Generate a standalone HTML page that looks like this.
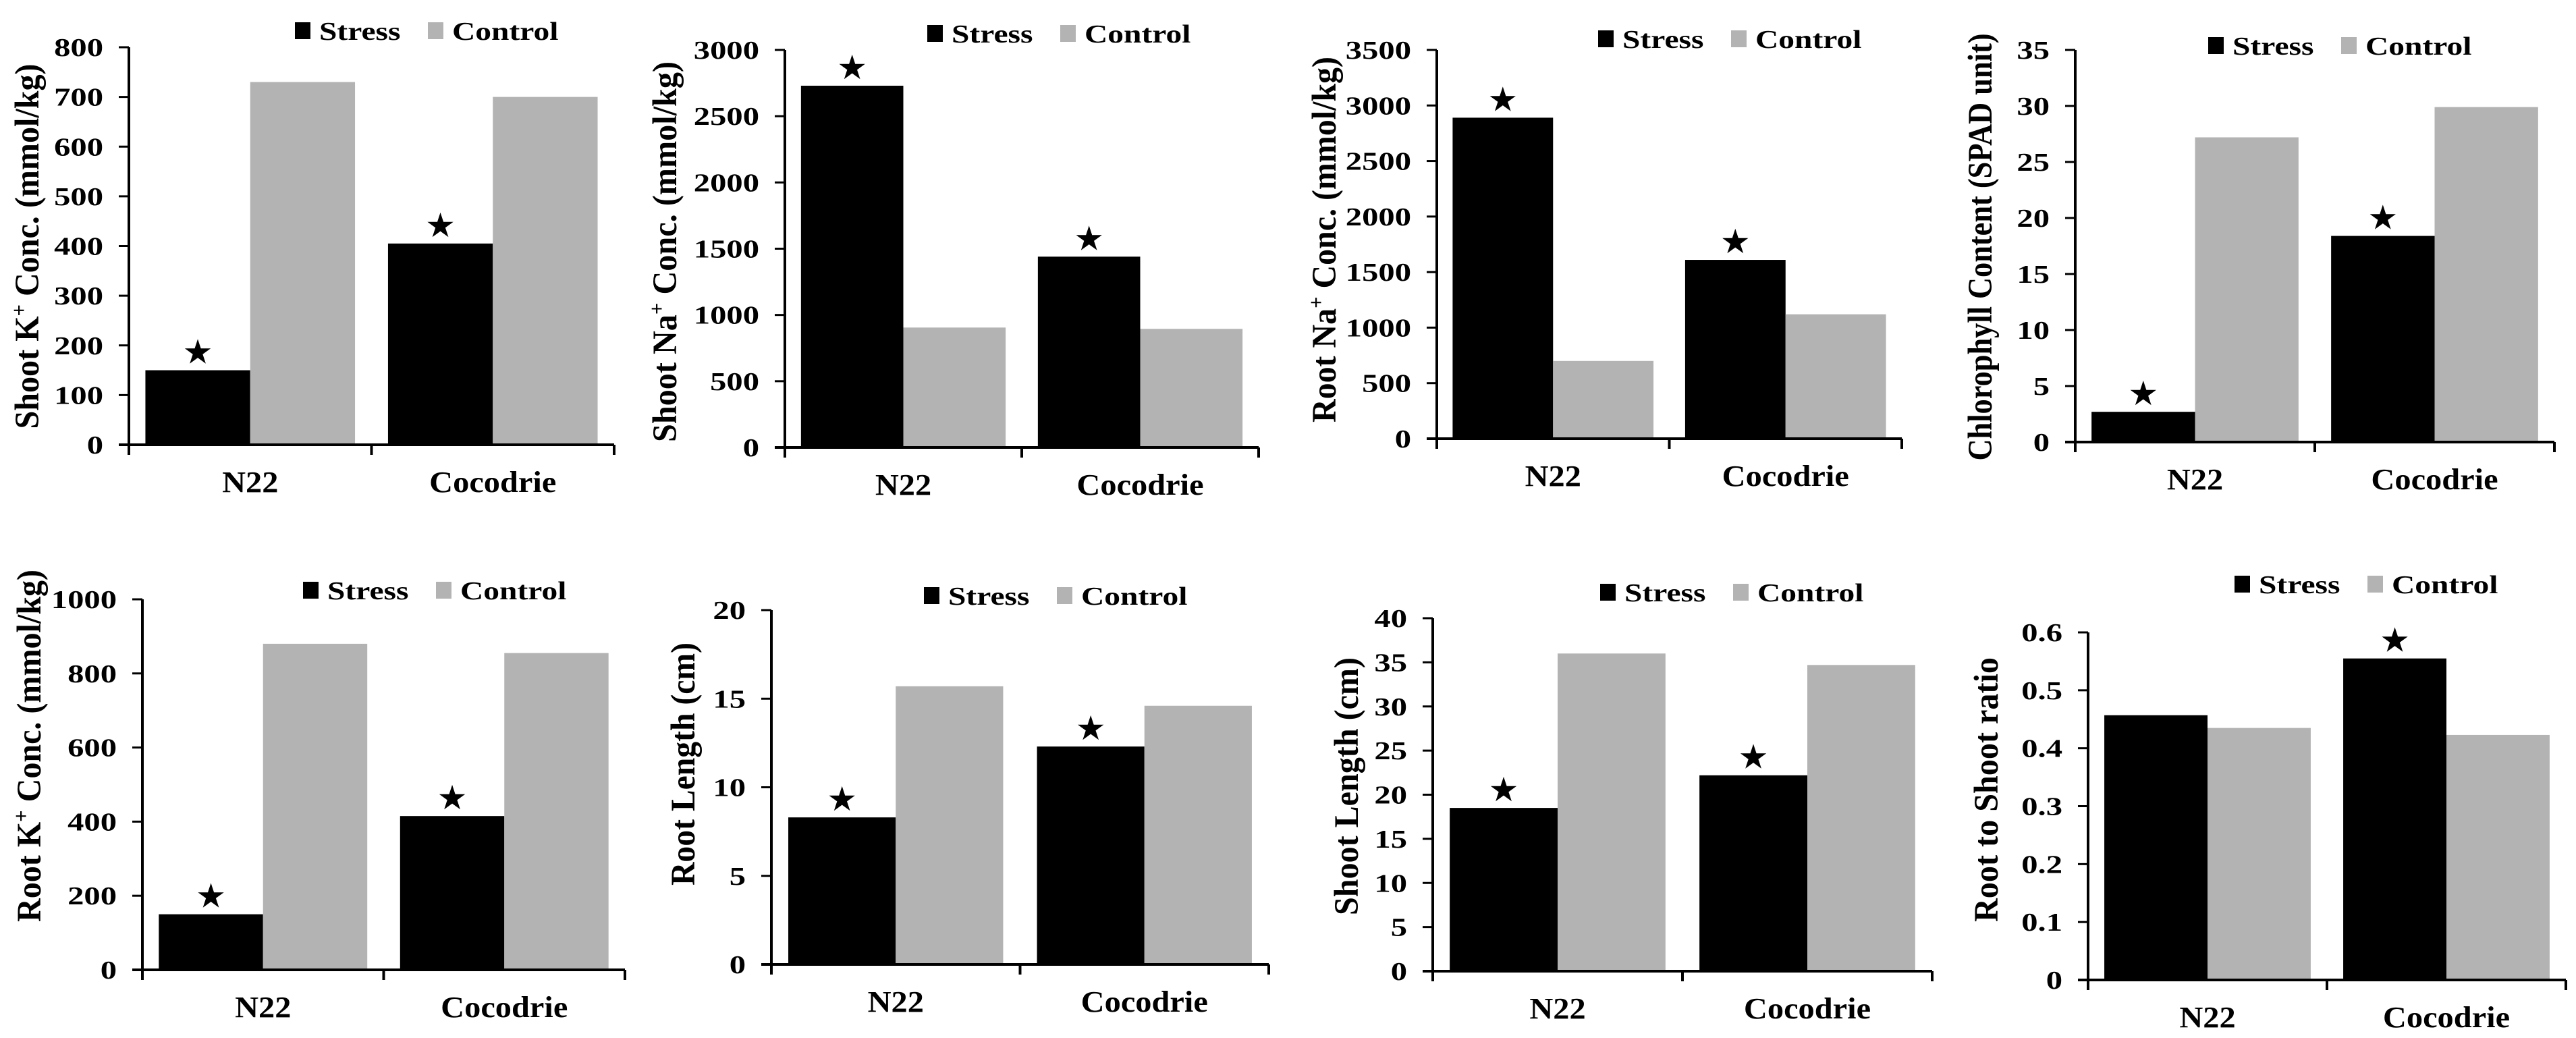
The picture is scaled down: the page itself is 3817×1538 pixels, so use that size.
<!DOCTYPE html>
<html><head><meta charset="utf-8"><style>
html,body{margin:0;padding:0;background:#fff;}
svg{display:block;}
text{font-family:"Liberation Serif",serif;font-weight:bold;fill:#000;}
</style></head>
<body>
<svg id="fig" width="3817" height="1538" viewBox="0 0 3817 1538" xmlns="http://www.w3.org/2000/svg"></svg>
<script>
const categories = ['N22', 'Cocodrie'];
const seriesNames = ['Stress', 'Control'];
const stressValues = [[150, 405], [2730, 1440], [2890, 1610], [2.7, 18.4], [150, 415], [8.3, 12.3], [18.5, 22.2], [0.457, 0.555]];
const controlValues = [[730, 700], [905, 895], [700, 1120], [27.2, 29.9], [880, 855], [15.7, 14.6], [36, 34.7], [0.435, 0.423]];
const yTickMax = [800, 3000, 3500, 35, 1000, 20, 40, 0.6];
const yTickStep = [100, 500, 500, 5, 200, 5, 5, 0.1];
const yTickDecimals = [0, 0, 0, 0, 0, 0, 0, 1];
const starFlags = [[1, 1], [1, 1], [1, 1], [1, 1], [1, 1], [1, 1], [1, 1], [0, 1]];
const yTitles = [
  ['Shoot K', '+', ' Conc. (mmol/kg)'],
  ['Shoot Na', '+', ' Conc. (mmol/kg)'],
  ['Root Na', '+', ' Conc. (mmol/kg)'],
  ['Chlorophyll Content (SPAD unit)', '', ''],
  ['Root K', '+', ' Conc. (mmol/kg)'],
  ['Root Length (cm)', '', ''],
  ['Shoot Length (cm)', '', ''],
  ['Root to Shoot ratio', '', '']
];
const panelNames = ['shoot-k', 'shoot-na', 'root-na', 'chlorophyll', 'root-k', 'root-length', 'shoot-length', 'root-shoot-ratio'];

// layout (pixel geometry, not data)
const layout = [
  {ax:191, top:70, zero:659, end:910, leg:437, legY:59, tx:40, tcy:365, tlen:541},
  {ax:1163, top:74, zero:663, end:1865, leg:1374, legY:63, tx:985, tcy:373, tlen:564},
  {ax:2129, top:74, zero:650, end:2818, leg:2368, legY:71, tx:1962, tcy:355, tlen:542},
  {ax:3075, top:74, zero:655, end:3785, leg:3272, legY:81, tx:2934, tcy:366, tlen:633},
  {ax:211, top:888, zero:1437, end:926, leg:449, legY:888, tx:43, tcy:1105, tlen:522},
  {ax:1143, top:904, zero:1429, end:1880, leg:1369, legY:896, tx:1012, tcy:1132, tlen:360},
  {ax:2123, top:916, zero:1439, end:2863, leg:2371, legY:891, tx:1995, tcy:1165, tlen:382},
  {ax:3094, top:937, zero:1452, end:3802, leg:3311, legY:879, tx:2943, tcy:1170, tlen:392}
];
const NS = 'http://www.w3.org/2000/svg';
const svg = document.getElementById('fig');
function mk(tag, attrs, parent) {
  const e = document.createElementNS(NS, tag);
  for (const k in attrs) e.setAttribute(k, attrs[k]);
  parent.appendChild(e);
  return e;
}
function txt(parent, x, y, s, size, sx, anchor) {
  const t = mk('text', {transform:`translate(${x},${y}) scale(${sx},1)`, 'font-size':size, 'text-anchor':anchor}, parent);
  t.textContent = s;
  return t;
}
layout.forEach((L, p) => {
  const g = mk('g', {}, svg);
  
  
  const ymax = yTickMax[p];
  const yScale = v => L.zero - (v / ymax) * (L.zero - L.top);
  const gw = (L.end - L.ax) / 2;
  const bw = gw * 0.432;
  const gap = (gw - 2 * bw) / 2;
  // bars
  for (let i = 0; i < categories.length; i++) {
    const x0 = L.ax + i * gw + gap;
    const sv = stressValues[p][i], cv = controlValues[p][i];
    const rs = mk('rect', {x:x0, y:yScale(sv), width:bw, height:L.zero - yScale(sv), fill:'#000'}, g);
    
    
    const rc = mk('rect', {x:x0 + bw, y:yScale(cv), width:bw, height:L.zero - yScale(cv), fill:'#b3b3b3'}, g);
    
    
    if (starFlags[p][i]) {
      const st = mk('text', {x:x0 + bw / 2, y:yScale(sv) - 10, 'font-size':50, 'text-anchor':'middle', style:'font-family:"DejaVu Sans",sans-serif;font-weight:normal'}, g);
      st.textContent = '★';
      
      
    }
    const cl = txt(g, L.ax + i * gw + gw / 2, L.zero + 70, categories[i], 44, 1.1, 'middle');
    
    
  }
  // axes
  const ya = mk('line', {x1:L.ax, y1:L.top, x2:L.ax, y2:L.zero + 15, stroke:'#000', 'stroke-width':4}, g);
  
  
  const xa = mk('line', {x1:L.ax - 15, y1:L.zero, x2:L.end, y2:L.zero, stroke:'#000', 'stroke-width':4}, g);
  
  
  [L.ax + gw, L.end].forEach(x => mk('line', {x1:x, y1:L.zero, x2:x, y2:L.zero + 15, stroke:'#000', 'stroke-width':4}, g));
  const n = Math.round(ymax / yTickStep[p]);
  for (let k = 0; k <= n; k++) {
    const v = k * yTickStep[p];
    const y = yScale(v);
    mk('line', {x1:L.ax - 15, y1:y, x2:L.ax, y2:y, stroke:'#000', 'stroke-width':3}, g);
    const lab = v === 0 ? '0' : v.toFixed(yTickDecimals[p]);
    const tl = txt(g, L.ax - 38, y + 13, lab, 38, 1.28, 'end');
    
    
  }
  // y title
  const t = mk('text', {transform:`translate(${L.tx + 17},${L.tcy}) rotate(-90) scale(1,1.15)`, 'font-size':44, 'text-anchor':'middle', textLength:L.tlen, lengthAdjust:'spacingAndGlyphs'}, g);
  
  
  const parts = yTitles[p];
  const a = mk('tspan', {}, t); a.textContent = parts[0];
  if (parts[1]) { const b = mk('tspan', {'font-size':28, dy:-16}, t); b.textContent = parts[1]; const c = mk('tspan', {dy:16}, t); c.textContent = parts[2]; }
  // legend
  const lg = mk('g', {}, g);
  
  
  const fills = ['#000', '#b3b3b3'];
  const offs = [0, 197];
  seriesNames.forEach((s, j) => {
    const e = mk('g', {}, lg);
    
    
    mk('rect', {x:L.leg + offs[j], y:L.legY - 26, width:23, height:25, fill:fills[j]}, e);
    txt(e, L.leg + offs[j] + 36, L.legY, s, 38, 1.25, 'start');
  });
});
</script>
</body></html>
